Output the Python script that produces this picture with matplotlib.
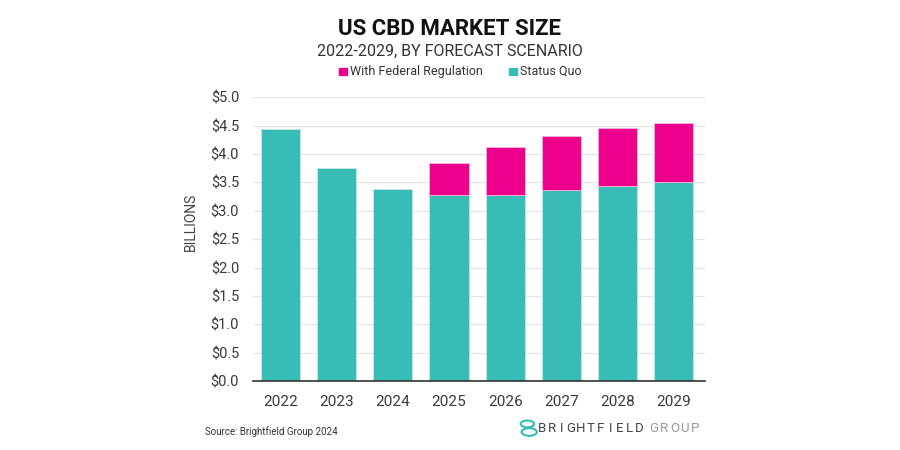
import matplotlib.pyplot as plt
from matplotlib.patches import Rectangle, Circle
import numpy as np

plt.rcParams['font.family'] = ['Roboto', 'DejaVu Sans']

# data (billions USD)
years = ['2022', '2023', '2024', '2025', '2026', '2027', '2028', '2029']
status_quo = [4.44, 3.75, 3.39, 3.27, 3.28, 3.36, 3.44, 3.51]
with_federal = [4.44, 3.75, 3.39, 3.84, 4.12, 4.31, 4.45, 4.54]
ytick_vals = [0.0, 0.5, 1.0, 1.5, 2.0, 2.5, 3.0, 3.5, 4.0, 4.5, 5.0]

teal = '#37BDB5'
magenta = '#EC008C'

fig = plt.figure(figsize=(9, 4.5), dpi=100)
ax = fig.add_axes([0.281, 0.153, 0.502, 0.631])

x = np.arange(len(years))
ax.bar(x, status_quo, width=0.7, color=teal, edgecolor='#C9E3EA', linewidth=0.6, zorder=3)
# only the forecast years have a regulation scenario on top
for i in range(len(years)):
    extra = with_federal[i] - status_quo[i]
    if extra > 0:
        ax.bar(x[i], extra, bottom=status_quo[i], width=0.7, color=magenta,
               edgecolor='#F7B5DA', linewidth=0.6, zorder=3)

ax.set_xlim(-0.49, 7.55)
ax.set_ylim(0, 5.0)
ax.set_yticks(ytick_vals)
ax.set_yticklabels(['$%.1f' % v for v in ytick_vals])
ax.set_xticks(x)
ax.set_xticklabels(years)
ax.tick_params(axis='y', length=0, labelsize=10.5, labelcolor='#3a3a3a', pad=10)
ax.tick_params(axis='x', length=0, labelsize=11, labelcolor='#3a3a3a', pad=10)
ax.grid(axis='y', color='#E6E6E6', linewidth=1, zorder=0)
for s in ['top', 'right', 'left']:
    ax.spines[s].set_visible(False)
ax.spines['bottom'].set_color('#333333')
ax.spines['bottom'].set_linewidth(1.2)
ax.spines['bottom'].set_zorder(4)

fig.text(0.212, 0.508, 'BILLIONS', rotation=90, ha='center', va='center',
         fontsize=10, color='#444444')

# titles
fig.text(0.5, 0.935, 'US CBD MARKET SIZE', ha='center', va='center',
         fontsize=16, fontweight='bold', color='#111111')
fig.text(0.5, 0.885, '2022-2029, BY FORECAST SCENARIO', ha='center', va='center',
         fontsize=11.5, color='#333333')

# legend
fig.patches.append(Rectangle((0.377, 0.833), 0.0085, 0.017, transform=fig.transFigure,
                             color=magenta, figure=fig))
fig.text(0.389, 0.841, 'With Federal Regulation', ha='left', va='center', fontsize=9, color='#333333')
fig.patches.append(Rectangle((0.566, 0.833), 0.0085, 0.017, transform=fig.transFigure,
                             color=teal, figure=fig))
fig.text(0.578, 0.841, 'Status Quo', ha='left', va='center', fontsize=9, color='#333333')

# footer
fig.text(0.228, 0.04, 'Source: Brightfield Group 2024', ha='left', va='center',
         fontsize=7, color='#333333')
fig.patches.append(Circle((0.586, 0.058), 0.0075, transform=fig.transFigure, fill=False,
                          edgecolor='#37BDB5', linewidth=1.5, figure=fig))
fig.patches.append(Circle((0.588, 0.040), 0.0085, transform=fig.transFigure, fill=False,
                          edgecolor='#37BDB5', linewidth=1.5, figure=fig))
for j, ch in enumerate('BRIGHTFIELD'):
    fig.text(0.602 + j * 0.01085, 0.048, ch, ha='center', va='center',
             fontsize=9.5, color='#444444')
for j, ch in enumerate('GROUP'):
    fig.text(0.7265 + j * 0.0115, 0.048, ch, ha='center', va='center',
             fontsize=9.5, color='#999999')

fig.savefig('out.png', dpi=100)
